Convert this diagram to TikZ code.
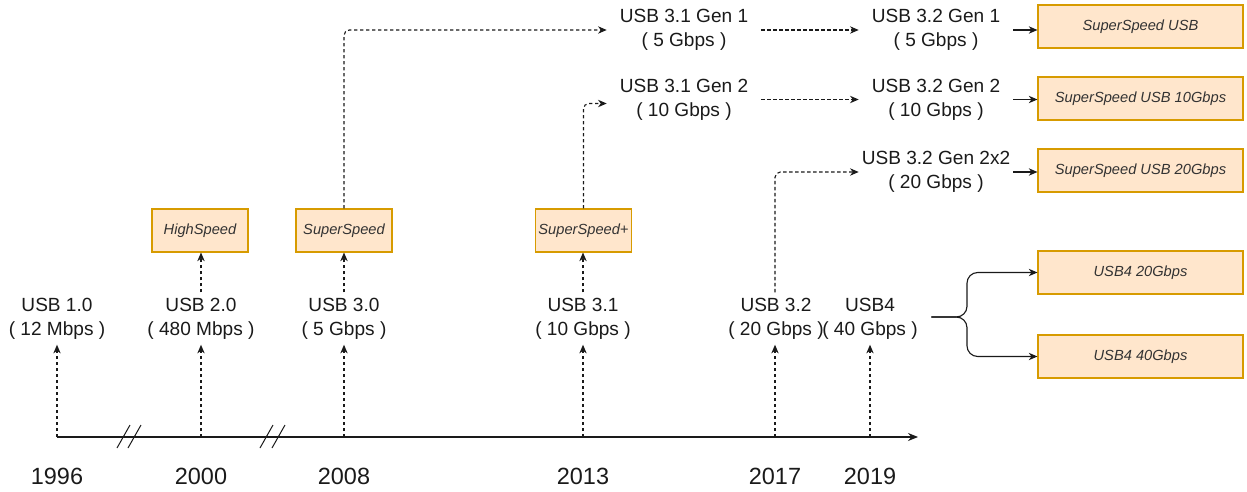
\documentclass[tikz,border=0pt]{standalone}
\usepackage{fontspec}
\setmainfont{Liberation Sans}
\usetikzlibrary{arrows.meta}
\definecolor{boxfill}{HTML}{FFE6CC}
\definecolor{boxline}{HTML}{D79B00}
\definecolor{boxtext}{HTML}{333333}
\definecolor{ink}{HTML}{1A1A1A}

\begin{document}
\begin{tikzpicture}[x=0.75pt,y=-0.75pt,
  tip/.style={-{Stealth[length=6.5pt,width=5.5pt,inset=2pt]}},
  link/.style={tip, draw=ink, line width=0.85pt},
  dlink/.style={link, dash pattern=on 2.5pt off 2pt},
  axisline/.style={-{Stealth[length=7.5pt,width=6pt,inset=2.5pt]}, draw=ink, line width=0.9pt},
  ver/.style={align=center, font=\fontsize{14.3pt}{18pt}\selectfont, inner xsep=10pt, inner ysep=4pt, text=ink},
  gen/.style={ver, minimum width=115.5pt, inner xsep=0pt},
  year/.style={font=\fontsize{17.6pt}{20pt}\selectfont, text=ink, inner sep=0pt},
  tag/.style={draw=boxline, fill=boxfill, line width=0.8pt, text=boxtext,
    font=\fontsize{11pt}{13pt}\selectfont\itshape, minimum height=32.25pt, inner sep=0pt},
  small/.style={tag, minimum width=72pt},
  wide/.style={tag, minimum width=153.75pt},
]
\useasboundingbox (0,0) rectangle (1247,492);

% time axis
\coordinate (t1996) at (57,437);
\coordinate (t2000) at (201,437);
\coordinate (t2008) at (344,437);
\coordinate (t2013) at (583,437);
\coordinate (t2017) at (775,437);
\coordinate (t2019) at (870,437);
\coordinate (axend) at (918,437);
\draw[axisline] (t1996) -- (axend);

% axis breaks
\draw[ink, line width=0.75pt] (117,448) -- (130,425) (128,448) -- (141,425);
\draw[ink, line width=0.75pt] (260,448) -- (273,425) (272,448) -- (285,425);

% years
\node[year] (y1996) at (57,476) {1996};
\node[year] (y2000) at (201,476) {2000};
\node[year] (y2008) at (344,476) {2008};
\node[year] (y2013) at (583,476) {2013};
\node[year] (y2017) at (775,476) {2017};
\node[year] (y2019) at (870,476) {2019};

% versions on the axis
\node[ver] (v10) at (57,318.5) {USB 1.0\\( 12 Mbps )};
\node[ver] (v20) at (201,318.5) {USB 2.0\\( 480 Mbps )};
\node[ver] (v30) at (344,318.5) {USB 3.0\\( 5 Gbps )};
\node[ver] (v31) at (583,318.5) {USB 3.1\\( 10 Gbps )};
\node[ver] (v32) at (776,318.5) {USB 3.2\\( 20 Gbps )};
\node[ver] (v4)  at (870,318.5) {USB4\\( 40 Gbps )};

\draw[dlink] (t1996) -- (v10.south);
\draw[dlink] (t2000) -- (t2000 |- v20.south);
\draw[dlink] (t2008) -- (v30.south);
\draw[dlink] (t2013) -- (v31.south);
\draw[dlink] (t2017) -- (t2017 |- v32.south);
\draw[dlink] (t2019) -- (v4.south);

% speed names
\node[small] (hs)  at (200,230.5) {HighSpeed};
\node[small] (ss)  at (344,230.5) {SuperSpeed};
\node[small] (ssp) at (583.5,230.5) {SuperSpeed+};

\draw[dlink] (v20.north) -- (v20.north |- hs.south);
\draw[dlink] (v30.north) -- (ss.south);
\draw[dlink] (v31.north) -- (v31.north |- ssp.south);

% generations
\node[gen] (g31a) at (684,30) {USB 3.1 Gen 1\\( 5 Gbps )};
\node[gen] (g31b) at (684,99.5) {USB 3.1 Gen 2\\( 10 Gbps )};
\node[gen] (g32a) at (936,30) {USB 3.2 Gen 1\\( 5 Gbps )};
\node[gen] (g32b) at (936,99.5) {USB 3.2 Gen 2\\( 10 Gbps )};
\node[gen] (g322) at (936,172) {USB 3.2 Gen 2x2\\( 20 Gbps )};

\draw[dlink, rounded corners=4pt] (ss.north) |- (g31a.west);
\draw[dlink, rounded corners=4pt] (ssp.north) |- ([yshift=-3pt]g31b.west);
\draw[dlink, rounded corners=4pt] (t2017 |- v32.north) |- (g322.west);
\draw[dlink] (g31a.east) -- (g32a.west);
\draw[dlink] (g31b.east) -- (g32b.west);

% marketing names
\node[wide] (ssusb) at (1140.5,26.5) {SuperSpeed USB};
\node[wide] (ss10)  at (1140.5,98.5) {SuperSpeed USB 10Gbps};
\node[wide] (ss20)  at (1140.5,170.5) {SuperSpeed USB 20Gbps};
\node[wide] (u20)   at (1140.5,272.5) {USB4 20Gbps};
\node[wide] (u40)   at (1140.5,356.5) {USB4 40Gbps};

\draw[link] (g32a.east) -- (g32a.east -| ssusb.west);
\draw[link] (g32b.east) -- (g32b.east -| ss10.west);
\draw[link] (g322.east) -- (g322.east -| ss20.west);

\coordinate (brc) at (967,317);
\draw[link, rounded corners=8pt] (v4.east |- brc) -- (brc) -- (brc |- u20.west) -- (u20.west);
\draw[link, rounded corners=8pt] (v4.east |- brc) -- (brc) -- (brc |- u40.west) -- (u40.west);
\end{tikzpicture}
\end{document}
